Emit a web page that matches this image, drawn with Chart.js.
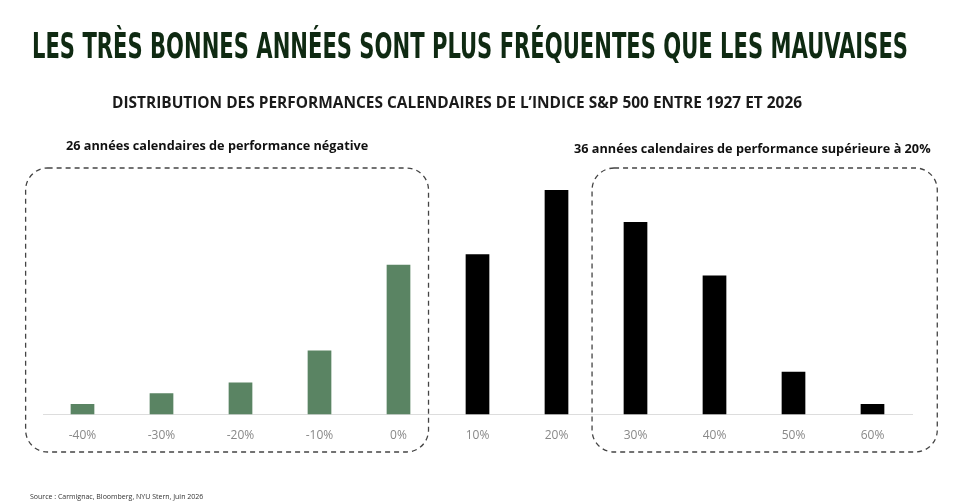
<!DOCTYPE html>
<html><head><meta charset="utf-8">
<script src="https://cdn.jsdelivr.net/npm/chart.js@4"></script>
<style>
html,body{margin:0;padding:0;background:#fff;width:956px;height:503px;overflow:hidden;font-family:"Open Sans",sans-serif}
#t{position:absolute;left:32px;top:27px;white-space:nowrap;font-family:"DejaVu Sans Condensed","Liberation Sans Narrow",sans-serif;font-weight:bold;font-size:35px;line-height:38px;color:#0f2a12;transform-origin:0 0}
#s{position:absolute;left:112px;top:92px;white-space:nowrap;font-weight:bold;font-size:14px;color:#1a1a1a;transform-origin:0 0}
#a1{position:absolute;left:66px;top:136px;font-weight:bold;font-size:12.7px;color:#111}
#a2{position:absolute;left:574px;top:139px;font-weight:bold;font-size:12.7px;color:#111}
#src{position:absolute;left:30px;top:492px;font-size:7px;color:#333}
#w{position:absolute;left:0;top:0;width:956px;height:503px}
</style></head><body>
<div id="w"><canvas id="c" width="956" height="503"></canvas></div>
<div id="t">LES TRÈS BONNES ANNÉES SONT PLUS FRÉQUENTES QUE LES MAUVAISES</div>
<div id="s">DISTRIBUTION DES PERFORMANCES CALENDAIRES DE L’INDICE S&amp;P 500 ENTRE 1927 ET 2026</div>
<div id="a1">26 années calendaires de performance négative</div>
<div id="a2">36 années calendaires de performance supérieure à 20%</div>
<div id="src">Source : Carmignac, Bloomberg, NYU Stern, Juin 2026</div>
<script>
const categories=["-40%","-30%","-20%","-10%","0%","10%","20%","30%","40%","50%","60%"];
const counts=[1,2,3,6,14,15,21,18,13,4,1];
const colors=["#5a8463","#5a8463","#5a8463","#5a8463","#5a8463","#000","#000","#000","#000","#000","#000"];
const t=document.getElementById('t');
t.style.transform='scale('+(876/t.scrollWidth)+',1)';
const s=document.getElementById('s');
s.style.transform='scale('+(690/s.scrollWidth)+',1.08)';
const boxes={id:'boxes',afterDraw(ch){
  const c=ch.ctx,x=ch.scales.x;
  const step=x.getPixelForValue(1)-x.getPixelForValue(0);
  c.save();c.setLineDash([5,4]);c.strokeStyle='#444';c.lineWidth=1.3;
  const r=(l,rr)=>{c.beginPath();c.roundRect(l,168,rr-l,284,22);c.stroke();};
  r(x.getPixelForValue(0)-step*0.72,x.getPixelForValue(4)+step*0.38);
  r(x.getPixelForValue(7)-step*0.55,x.getPixelForValue(10)+step*0.82);
  c.restore();}};
new Chart(document.getElementById('c'),{type:'bar',
data:{labels:categories,datasets:[{data:counts,backgroundColor:colors,barPercentage:0.3,categoryPercentage:1}]},
options:{responsive:false,animation:false,
layout:{padding:{left:43,right:44,top:190,bottom:54}},
plugins:{legend:{display:false},tooltip:{enabled:false}},
scales:{x:{grid:{display:false},border:{color:'#ddd'},ticks:{color:'#888',font:{size:12,family:'Open Sans'},padding:6}},
y:{display:false,min:0,max:21}}},
plugins:[boxes]});
</script></body></html>
